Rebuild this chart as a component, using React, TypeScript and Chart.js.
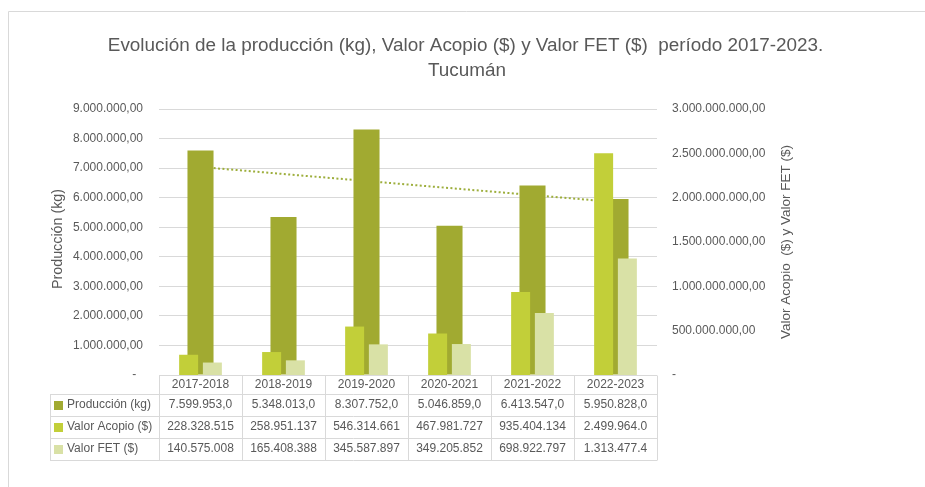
import React, { useEffect, useRef } from 'react';
import { Chart, registerables } from 'chart.js';

Chart.register(...registerables);

// ---------- data ----------
const categories = ['2017-2018', '2018-2019', '2019-2020', '2020-2021', '2021-2022', '2022-2023'];
const produccionKg = [7599953, 5348013, 8307752, 5046859, 6413547, 5950828];
const valorAcopio = [228328515, 258951137, 546314661, 467981727, 935404134, 2499964000];
const valorFET = [140575008, 165408388, 345587897, 349205852, 698922797, 1313477400];
const seriesLabels = ['Producción (kg)', 'Valor Acopio ($)', 'Valor FET ($)'];
const titleLines = [
  'Evolución de la producción (kg), Valor Acopio ($) y Valor FET ($)  período 2017-2023.',
  'Tucumán',
];
const leftAxisTitle = 'Producción (kg)';
const rightAxisTitle = 'Valor Acopio  ($) y Valor FET ($)';
const leftAxisMax = 9000000;
const leftAxisStep = 1000000;
const rightAxisMax = 3000000000;
const rightAxisStep = 500000000;

// ---------- styles ----------
const FONT = "'Liberation Sans', Arial, sans-serif";
const TEXT = '#595959';
const GRID = '#D9D9D9';
const COLOR_PROD = '#A1AA31';
const COLOR_ACOPIO = '#C2CF39';
const COLOR_FET = '#D9E1A6';
const COLOR_TREND = '#9DAE3C';

function formatEs(v: number, decimals: number): string {
  const fixed = Math.abs(v).toFixed(decimals);
  const [intPart, decPart] = fixed.split('.');
  const grouped = intPart.replace(/\B(?=(\d{3})+(?!\d))/g, '.');
  return decPart ? `${grouped},${decPart}` : grouped;
}

// the table cells show at most 11 characters (wider values are clipped)
function cellText(s: string): string {
  return s.length > 11 ? s.slice(0, 11) : s;
}

// linear trend line (least squares) of the production series
function linearTrend(values: number[]): number[] {
  const n = values.length;
  const xs = values.map((_, i) => i + 1);
  const mx = xs.reduce((a, b) => a + b, 0) / n;
  const my = values.reduce((a, b) => a + b, 0) / n;
  let sxy = 0;
  let sxx = 0;
  for (let i = 0; i < n; i++) {
    sxy += (xs[i] - mx) * (values[i] - my);
    sxx += (xs[i] - mx) * (xs[i] - mx);
  }
  const slope = sxy / sxx;
  const icpt = my - slope * mx;
  return xs.map((x) => icpt + slope * x);
}

const tableRows = [
  { label: seriesLabels[0], color: COLOR_PROD, cells: produccionKg.map((v) => cellText(formatEs(v, 1))) },
  { label: seriesLabels[1], color: COLOR_ACOPIO, cells: valorAcopio.map((v) => cellText(formatEs(v, 0))) },
  { label: seriesLabels[2], color: COLOR_FET, cells: valorFET.map((v) => cellText(formatEs(v, 0))) },
];

const decorPlugin = {
  id: 'decor',
  afterDraw(chart: any) {
    const { ctx, chartArea } = chart;
    const xs = chart.scales.x;
    const crisp = (v: number) => Math.round(v) + 0.5;
    ctx.save();

    // outer frame (left and top edges visible)
    ctx.strokeStyle = GRID;
    ctx.lineWidth = 1;
    ctx.beginPath();
    ctx.moveTo(8.5, chart.height);
    ctx.lineTo(8.5, 11.5);
    ctx.lineTo(chart.width, 11.5);
    ctx.stroke();

    // title
    ctx.fillStyle = TEXT;
    ctx.textAlign = 'center';
    ctx.textBaseline = 'middle';
    ctx.font = `18.9px ${FONT}`;
    ctx.fillText(titleLines[0], 465.5, 46);
    ctx.fillText(titleLines[1], 467, 71);

    // axis titles
    const midY = (chartArea.top + chartArea.bottom) / 2;
    ctx.font = `14.3px ${FONT}`;
    ctx.save();
    ctx.translate(58, midY - 3);
    ctx.rotate(-Math.PI / 2);
    ctx.fillText(leftAxisTitle, 0, 0);
    ctx.restore();
    ctx.font = `13.5px ${FONT}`;
    ctx.save();
    ctx.translate(786, midY);
    ctx.rotate(-Math.PI / 2);
    ctx.fillText(rightAxisTitle, 0, 0);
    ctx.restore();

    // data table
    const step = xs.getPixelForValue(1) - xs.getPixelForValue(0);
    const colLeft = (i: number) => xs.getPixelForValue(i) - step / 2;
    const top = chartArea.bottom;
    const headerH = 19;
    const rowH = 22;
    const tableLeft = 50;
    const right = chartArea.right;
    const rowTops = [top + headerH, top + headerH + rowH, top + headerH + 2 * rowH];
    const bottom = top + headerH + 3 * rowH;

    ctx.strokeStyle = GRID;
    ctx.lineWidth = 1;
    ctx.beginPath();
    ctx.moveTo(chartArea.left, crisp(top));
    ctx.lineTo(right, crisp(top));
    [...rowTops, bottom].forEach((y) => {
      ctx.moveTo(tableLeft, crisp(y));
      ctx.lineTo(right, crisp(y));
    });
    ctx.moveTo(crisp(tableLeft), crisp(rowTops[0]));
    ctx.lineTo(crisp(tableLeft), crisp(bottom));
    for (let i = 0; i <= categories.length; i++) {
      const x = crisp(colLeft(i) - 0.5);
      ctx.moveTo(x, crisp(top));
      ctx.lineTo(x, crisp(bottom));
    }
    ctx.stroke();

    ctx.font = `12px ${FONT}`;
    ctx.fillStyle = TEXT;
    ctx.textAlign = 'center';
    ctx.textBaseline = 'middle';
    categories.forEach((c, i) => {
      ctx.fillText(c, xs.getPixelForValue(i), top + headerH / 2 + 0.5);
    });
    tableRows.forEach((row, r) => {
      const cy = rowTops[r] + rowH / 2;
      ctx.fillStyle = row.color;
      ctx.fillRect(tableLeft + 4, Math.round(cy - 4.5), 9, 9);
      ctx.fillStyle = TEXT;
      ctx.textAlign = 'left';
      ctx.fillText(row.label, tableLeft + 17, cy);
      ctx.textAlign = 'center';
      row.cells.forEach((t, i) => {
        ctx.fillText(t, xs.getPixelForValue(i), cy);
      });
    });

    ctx.restore();
  },
};

export default function App() {
  const canvasRef = useRef<HTMLCanvasElement | null>(null);

  useEffect(() => {
    const canvas = canvasRef.current;
    if (!canvas) return;
    const trend = linearTrend(produccionKg);
    const chart = new Chart(canvas, {
      type: 'bar',
      data: {
        labels: categories,
        datasets: [
          {
            type: 'line',
            label: 'Lineal (Producción (kg))',
            data: trend,
            yAxisID: 'y',
            borderColor: COLOR_TREND,
            borderWidth: 2,
            borderDash: [2, 2.4],
            pointRadius: 0,
            fill: false,
            tension: 0,
            order: 4,
          } as any,
          {
            label: seriesLabels[0],
            data: produccionKg,
            yAxisID: 'y',
            backgroundColor: COLOR_PROD,
            grouped: false,
            categoryPercentage: 1,
            barPercentage: 0.314,
            order: 3,
          } as any,
          {
            label: seriesLabels[1],
            data: valorAcopio,
            yAxisID: 'y1',
            backgroundColor: COLOR_ACOPIO,
            categoryPercentage: 0.572,
            barPercentage: 0.8,
            order: 1,
          },
          {
            label: seriesLabels[2],
            data: valorFET,
            yAxisID: 'y1',
            backgroundColor: COLOR_FET,
            categoryPercentage: 0.572,
            barPercentage: 0.8,
            order: 2,
          },
        ],
      },
      options: {
        responsive: false,
        animation: false,
        layout: { padding: { top: 109, bottom: 112, left: 0, right: 0 } },
        plugins: {
          legend: { display: false },
          title: { display: false },
          tooltip: { enabled: false },
        },
        scales: {
          x: { type: 'category', display: false, offset: true },
          y: {
            position: 'left',
            min: 0,
            max: leftAxisMax,
            ticks: {
              stepSize: leftAxisStep,
              color: TEXT,
              font: { family: FONT, size: 12 },
              padding: 16,
              callback: (v: any) => (Number(v) === 0 ? '-  ' : formatEs(Number(v), 2)),
            },
            grid: { color: GRID, lineWidth: 1, drawTicks: false },
            border: { display: false },
            afterFit: (s: any) => {
              s.width = 159;
            },
          },
          y1: {
            position: 'right',
            min: 0,
            max: rightAxisMax,
            ticks: {
              stepSize: rightAxisStep,
              color: TEXT,
              font: { family: FONT, size: 12 },
              padding: 15,
              callback: (v: any) => (Number(v) === 0 ? '-' : formatEs(Number(v), 2)),
            },
            grid: { display: false, drawTicks: false },
            border: { display: false },
            afterFit: (s: any) => {
              s.width = 268;
            },
          },
        },
      } as any,
      plugins: [decorPlugin],
    });
    return () => chart.destroy();
  }, []);

  return (
    <div style={{ position: 'fixed', left: 0, top: 0, width: 925, height: 487, background: '#fff' }}>
      <canvas ref={canvasRef} width={925} height={487} style={{ display: 'block' }} />
    </div>
  );
}
